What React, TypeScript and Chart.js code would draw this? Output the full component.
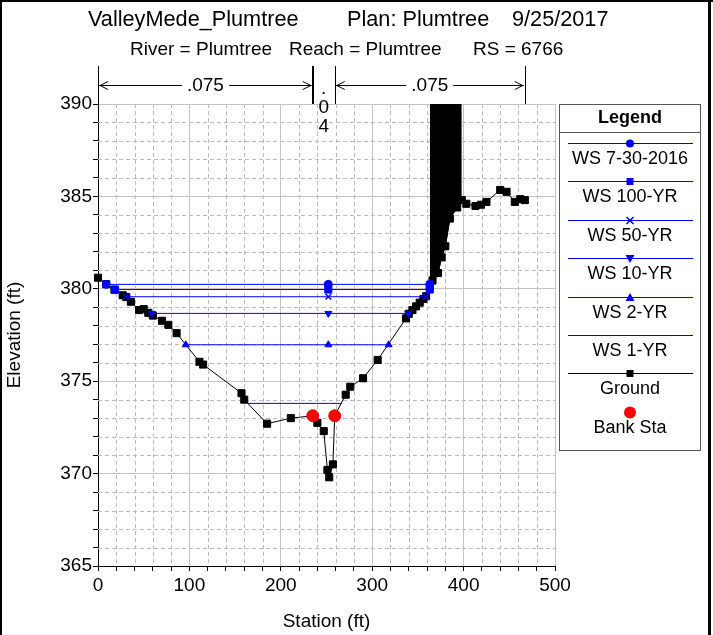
import React, { useEffect, useRef } from 'react';
import { Chart, registerables } from 'chart.js';

Chart.register(...registerables);

const FONT = "'Liberation Sans', Arial, Helvetica, sans-serif";

// ---------------- data ----------------
const titlePieces = ['ValleyMede_Plumtree', 'Plan: Plumtree', '9/25/2017'];
const titleX = [88, 347, 512];
const subtitlePieces = ['River = Plumtree', 'Reach = Plumtree', 'RS = 6766'];
const subtitleX = [130, 289, 473];

const groundStation = [
  0, 9, 18, 27, 31, 36, 45, 50, 55, 60,
  70, 77, 86, 111, 115, 157, 160, 185, 211, 235,
  240, 247, 251, 253, 257, 259, 271, 276, 290, 306,
  337, 340, 344, 348, 352, 356, 359, 363, 366, 372,
  376, 380, 385, 393, 398, 403, 413, 419, 425, 440,
  447, 456, 462, 467,
];
const groundElevation = [
  380.6, 380.25, 379.95, 379.65, 379.55, 379.3, 378.85, 378.9, 378.7, 378.55,
  378.27, 378.05, 377.6, 376.05, 375.9, 374.35, 374.0, 372.7, 373.0, 373.13,
  372.75, 372.3, 370.2, 369.8, 370.5, 373.13, 374.27, 374.7, 375.16, 376.15,
  378.4, 378.65, 378.85, 379.05, 379.25, 379.45, 379.6, 380.1, 380.45, 380.85,
  381.7, 382.3, 383.8, 384.4, 384.8, 384.6, 384.48, 384.55, 384.7, 385.35,
  385.25, 384.7, 384.85, 384.8,
];

const bankStation = [235, 259];
const bankElevation = [373.13, 373.13];

const wsNames = ['WS 7-30-2016', 'WS 100-YR', 'WS 50-YR', 'WS 10-YR', 'WS 2-YR', 'WS 1-YR'];
const wsElevation = [380.24, 379.96, 379.57, 378.67, 376.97, 373.8];
const wsLeftStation = [9, 18.5, 30.5, 59, 96, 164];
const wsMidStation = [252, 252, 252, 252, 252, 252];
const wsRightStation = [363, 363, 359, 339.5, 318, 267];
const wsMarkers = ['circle', 'rect', 'crossRot', 'triangleDown', 'triangle', 'none'];

const obstructionStation = [363, 398];
const obstructionTop = 391;

const nValueLabels = ['.075', '.04', '.075'];
const nValueStation = [0, 235, 259, 467];

const xMin = 0, xMax = 500, xStep = 20, xLabelEvery = 100;
const yMin = 365, yMax = 390, yStep = 1, yLabelEvery = 5;

// ---------------- helpers ----------------
const pts = (xs: number[], ys: number[]) => xs.map((x, i) => ({ x, y: ys[i] }));

function drawMarker(ctx: CanvasRenderingContext2D, style: string, x: number, y: number, color: string) {
  ctx.save();
  ctx.fillStyle = color;
  ctx.strokeStyle = color;
  ctx.lineWidth = 1.5;
  ctx.beginPath();
  if (style === 'circle') {
    ctx.arc(x, y, 4, 0, Math.PI * 2);
    ctx.fill();
  } else if (style === 'bigCircle') {
    ctx.arc(x, y, 6, 0, Math.PI * 2);
    ctx.fill();
  } else if (style === 'rect') {
    ctx.fillRect(x - 3.5, y - 3.5, 7, 7);
  } else if (style === 'crossRot') {
    ctx.moveTo(x - 3.5, y - 3.5); ctx.lineTo(x + 3.5, y + 3.5);
    ctx.moveTo(x + 3.5, y - 3.5); ctx.lineTo(x - 3.5, y + 3.5);
    ctx.stroke();
  } else if (style === 'triangle') {
    ctx.moveTo(x, y - 4.5); ctx.lineTo(x + 4.5, y + 3.5); ctx.lineTo(x - 4.5, y + 3.5);
    ctx.closePath(); ctx.fill();
  } else if (style === 'triangleDown') {
    ctx.moveTo(x, y + 4.5); ctx.lineTo(x + 4.5, y - 3.5); ctx.lineTo(x - 4.5, y - 3.5);
    ctx.closePath(); ctx.fill();
  }
  ctx.restore();
}

const decorPlugin = {
  id: 'decor',
  beforeDraw(chart: any) {
    const { ctx, width, height } = chart;
    ctx.save();
    ctx.fillStyle = '#ffffff';
    ctx.fillRect(0, 0, width, height);
    ctx.restore();
  },
  beforeDatasetsDraw(chart: any) {
    const { ctx, chartArea: a, scales } = chart;
    const xs = scales.x, ys = scales.y;
    ctx.save();
    ctx.strokeStyle = '#bcbcbc';
    ctx.lineWidth = 1;
    ctx.setLineDash([4, 3]);
    xs.ticks.forEach((t: any) => {
      if (t.value % xLabelEvery !== 0) {
        const p = Math.round(xs.getPixelForValue(t.value)) + 0.5;
        ctx.beginPath(); ctx.moveTo(p, a.top); ctx.lineTo(p, a.bottom); ctx.stroke();
      }
    });
    ys.ticks.forEach((t: any) => {
      if (t.value % yLabelEvery !== 0) {
        const p = Math.round(ys.getPixelForValue(t.value)) + 0.5;
        ctx.beginPath(); ctx.moveTo(a.left, p); ctx.lineTo(a.right, p); ctx.stroke();
      }
    });
    ctx.restore();
  },
  afterDraw(chart: any) {
    const { ctx, chartArea: a, scales } = chart;
    const xs = scales.x;
    ctx.save();
    ctx.fillStyle = '#000';
    ctx.strokeStyle = '#000';
    ctx.textBaseline = 'middle';
    ctx.textAlign = 'left';

    // titles
    ctx.font = `21.7px ${FONT}`;
    titlePieces.forEach((t, i) => ctx.fillText(t, titleX[i], 20));
    ctx.font = `19px ${FONT}`;
    subtitlePieces.forEach((t, i) => ctx.fillText(t, subtitleX[i], 50));

    // n-value header
    const yTop = 66, yArrow = 85;
    const px = nValueStation.map((s) => xs.getPixelForValue(s));
    px.forEach((p, i) => {
      ctx.lineWidth = i === 1 ? 2 : 1;
      const xx = Math.round(p) + (i === 1 ? 0 : 0.5);
      ctx.beginPath(); ctx.moveTo(xx, yTop); ctx.lineTo(xx, a.top); ctx.stroke();
    });
    ctx.lineWidth = 1;
    ctx.font = `19px ${FONT}`;
    nValueLabels.forEach((lab, i) => {
      const l = px[i] + 1, r = px[i + 1] - 1;
      const w = ctx.measureText(lab).width;
      const mid = (l + r) / 2;
      if (w + 40 < r - l) {
        ctx.textAlign = 'center';
        ctx.fillText(lab, mid, yArrow + 1);
        const y0 = yArrow + 0.5;
        ctx.beginPath();
        ctx.moveTo(l, y0); ctx.lineTo(mid - w / 2 - 5, y0);
        ctx.moveTo(mid + w / 2 + 5, y0); ctx.lineTo(r, y0);
        ctx.stroke();
        ctx.beginPath();
        ctx.moveTo(l + 9, y0 - 4); ctx.lineTo(l + 1, y0); ctx.lineTo(l + 9, y0 + 4);
        ctx.moveTo(r - 9, y0 - 4); ctx.lineTo(r - 1, y0); ctx.lineTo(r - 9, y0 + 4);
        ctx.stroke();
      } else {
        ctx.textAlign = 'center';
        lab.split('').forEach((ch, k) => ctx.fillText(ch, mid, 89 + k * 19));
      }
    });

    // legend
    const lx0 = a.right + 4, lx1 = 700, ly0 = a.top, ly1 = 450;
    ctx.strokeStyle = '#555';
    ctx.lineWidth = 1;
    ctx.strokeRect(lx0 + 0.5, ly0 + 0.5, lx1 - lx0, ly1 - ly0);
    ctx.beginPath(); ctx.moveTo(lx0, 132.5); ctx.lineTo(lx1, 132.5); ctx.stroke();
    const cx = (lx0 + lx1) / 2 + 0.5;
    ctx.textAlign = 'center';
    ctx.font = `bold 18px ${FONT}`;
    ctx.fillStyle = '#000';
    ctx.fillText('Legend', cx, 118);
    ctx.font = `18px ${FONT}`;
    const items = [
      ...wsNames.map((n, i) => ({ label: n, color: '#0000ff', marker: wsMarkers[i], line: true })),
      { label: 'Ground', color: '#000000', marker: 'rect', line: true },
      { label: 'Bank Sta', color: '#ff0000', marker: 'bigCircle', line: false },
    ];
    items.forEach((it, i) => {
      const yl = 143 + i * 38.4;
      if (it.line) {
        ctx.strokeStyle = it.color;
        ctx.lineWidth = 1;
        ctx.beginPath(); ctx.moveTo(lx0 + 9, Math.round(yl) + 0.5); ctx.lineTo(lx1 - 7, Math.round(yl) + 0.5); ctx.stroke();
      }
      drawMarker(ctx, it.marker, cx, Math.round(yl) + 0.5, it.color);
      ctx.fillStyle = '#000';
      ctx.fillText(it.label, cx, yl + 16);
    });

    // frame
    ctx.fillStyle = '#000';
    ctx.fillRect(0, 0, 713, 2);
    ctx.fillRect(0, 0, 2, 635);
    ctx.fillRect(708, 0, 3, 635);
    ctx.restore();
  },
};

export default function App() {
  const ref = useRef<HTMLCanvasElement>(null);

  useEffect(() => {
    const canvas = ref.current;
    if (!canvas) return;
    Chart.defaults.font.family = FONT;
    Chart.defaults.color = '#000';

    const ground = pts(groundStation, groundElevation);
    const obsBottom = ground.filter((p) => p.x >= obstructionStation[0] && p.x <= obstructionStation[1]);
    const obsTop = obstructionStation.map((x) => ({ x, y: obstructionTop }));

    const wsSets = wsNames.map((name, i) => ({
      label: name,
      data: [
        { x: wsLeftStation[i], y: wsElevation[i] },
        { x: wsMidStation[i], y: wsElevation[i] },
        { x: wsRightStation[i], y: wsElevation[i] },
      ],
      showLine: true,
      clip: false,
      borderColor: '#0000ff',
      backgroundColor: '#0000ff',
      borderWidth: 1,
      pointStyle: wsMarkers[i] === 'triangleDown' ? 'triangle' : wsMarkers[i] === 'none' ? 'circle' : wsMarkers[i],
      pointRotation: wsMarkers[i] === 'triangleDown' ? 180 : 0,
      pointRadius: wsMarkers[i] === 'none' ? 0 : wsMarkers[i] === 'rect' ? 5 : 4,
      pointBorderWidth: wsMarkers[i] === 'crossRot' ? 1.5 : 1,
      pointBackgroundColor: '#0000ff',
      pointBorderColor: '#0000ff',
      order: 1 + i,
    }));

    const chart = new Chart(canvas, {
      type: 'scatter',
      data: {
        datasets: [
          {
            label: 'Bank Sta',
            data: pts(bankStation, bankElevation),
            showLine: false,
            pointStyle: 'circle',
            pointRadius: 6,
            pointBackgroundColor: '#ff0000',
            pointBorderColor: '#ff0000',
            order: 0,
          },
          ...wsSets,
          {
            label: 'Ground',
            data: ground,
            showLine: true,
            clip: false,
            borderColor: '#000',
            backgroundColor: '#000',
            borderWidth: 1,
            pointStyle: 'rect',
            pointRadius: 5,
            pointBackgroundColor: '#000',
            pointBorderColor: '#000',
            order: 7,
          },
          {
            label: 'obstruction-bottom',
            data: obsBottom,
            showLine: true,
            borderColor: '#000',
            borderWidth: 1,
            pointRadius: 0,
            order: 8,
          },
          {
            label: 'obstruction-top',
            data: obsTop,
            showLine: true,
            borderColor: '#000',
            borderWidth: 1,
            pointRadius: 0,
            fill: 8,
            backgroundColor: '#000',
            order: 9,
          },
        ],
      } as any,
      options: {
        responsive: false,
        animation: false,
        events: [],
        layout: { padding: { left: 0, top: 104, right: 158, bottom: 0 } },
        plugins: {
          legend: { display: false },
          tooltip: { enabled: false },
        },
        scales: {
          x: {
            type: 'linear',
            position: 'bottom',
            min: xMin,
            max: xMax,
            afterFit: (s: any) => { s.height = 69; },
            ticks: {
              stepSize: xStep,
              autoSkip: false,
              maxRotation: 0,
              padding: 3,
              color: '#000',
              font: { size: 19, family: FONT },
              callback: (v: any) => (Number(v) % xLabelEvery === 0 ? String(v) : ''),
            },
            grid: {
              color: (c: any) => (c.tick && c.tick.value % xLabelEvery === 0 ? '#c4c4c4' : 'rgba(0,0,0,0)'),
              tickColor: '#000',
              tickLength: 5,
              lineWidth: 1,
            },
            border: { color: '#000', width: 1 },
            title: {
              display: true,
              text: 'Station (ft)',
              color: '#000',
              font: { size: 19, family: FONT },
              padding: { top: 0, bottom: 2 },
            },
          },
          y: {
            type: 'linear',
            position: 'left',
            min: yMin,
            max: yMax,
            afterFit: (s: any) => { s.width = 98; },
            ticks: {
              stepSize: yStep,
              autoSkip: false,
              padding: 1,
              color: '#000',
              font: { size: 19, family: FONT },
              callback: (v: any) => (Number(v) % yLabelEvery === 0 ? String(v) : ''),
            },
            grid: {
              color: (c: any) => (c.tick && c.tick.value % yLabelEvery === 0 ? '#c4c4c4' : 'rgba(0,0,0,0)'),
              tickColor: '#000',
              tickLength: 5,
              lineWidth: 1,
            },
            border: { color: '#000', width: 1 },
            title: {
              display: true,
              text: 'Elevation (ft)',
              color: '#000',
              font: { size: 19, family: FONT },
              padding: { top: 3, bottom: 0 },
            },
          },
        },
      } as any,
      plugins: [decorPlugin as any],
    });

    return () => chart.destroy();
  }, []);

  return (
    <div style={{ position: 'fixed', left: 0, top: 0, width: 713, height: 635, background: '#fff' }}>
      <canvas ref={ref} width={713} height={635} style={{ display: 'block', width: 713, height: 635 }} />
    </div>
  );
}
